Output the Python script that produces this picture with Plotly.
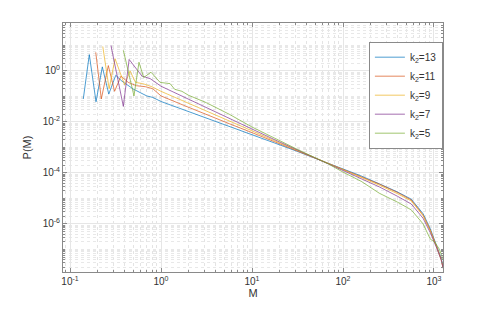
import numpy as np
import plotly.graph_objects as go

# log10 values
labels = ["k<sub>2</sub>=13", "k<sub>2</sub>=11", "k<sub>2</sub>=9", "k<sub>2</sub>=7", "k<sub>2</sub>=5"]
colors = ["#0072BD", "#D95319", "#EDB120", "#7E2F8E", "#77AC30"]

x_tick_exps = [-1, 0, 1, 2, 3]
y_tick_exps = [-6, -4, -2, 0]

logM_k13 = [-0.854, -0.788, -0.714, -0.645, -0.574, -0.497, -0.43, -0.30, -0.157, -0.09, 0.0, 0.25, 0.5, 0.75,
            1.0, 1.25, 1.5, 1.84, 2.0, 2.2, 2.4, 2.6, 2.75, 2.88, 2.96, 3.03, 3.08, 3.10]
logP_k13 = [-1.10, 0.64, -1.21, 0.16, -0.91, -0.17, -0.40, -0.72, -0.98, -1.04, -1.20, -1.52, -1.84, -2.16,
            -2.49, -2.83, -3.16, -3.62, -3.84, -4.12, -4.43, -4.75, -5.03, -5.60, -6.20, -6.85, -7.35, -7.70]

logM_k11 = [-0.717, -0.656, -0.579, -0.51, -0.44, -0.36, -0.27, -0.17, -0.09, 0.0, 0.25, 0.5, 0.75, 1.0,
            1.25, 1.5, 1.84, 2.0, 2.2, 2.4, 2.6, 2.75, 2.88, 2.96, 3.03, 3.08, 3.10]
logP_k11 = [0.73, -1.10, 0.21, -0.80, -0.20, -0.45, -0.58, -0.62, -0.70, -0.98, -1.35, -1.72, -2.07, -2.42,
            -2.78, -3.13, -3.62, -3.85, -4.13, -4.44, -4.77, -5.06, -5.65, -6.25, -6.90, -7.40, -7.72]

logM_k9 = [-0.64, -0.57, -0.505, -0.40, -0.34, -0.28, -0.20, -0.10, 0.0, 0.25, 0.5, 0.75, 1.0, 1.25,
           1.5, 1.84, 2.0, 2.2, 2.4, 2.6, 2.75, 2.88, 2.96, 3.03, 3.08, 3.10]
logP_k9 = [0.96, -0.70, 0.48, -0.55, 0.0, -0.45, -0.50, -0.62, -0.80, -1.18, -1.58, -1.97, -2.35, -2.74,
           -3.12, -3.63, -3.87, -4.16, -4.48, -4.82, -5.10, -5.68, -6.28, -6.92, -7.42, -7.74]

logM_k7 = [-0.55, -0.48, -0.414, -0.35, -0.29, -0.21, -0.12, -0.07, 0.0, 0.25, 0.5, 0.75, 1.0, 1.25,
           1.5, 1.84, 2.0, 2.2, 2.4, 2.6, 2.75, 2.88, 2.96, 3.03, 3.08, 3.10]
logP_k7 = [1.00, -0.25, -1.39, 0.45, 0.15, -0.20, -0.30, -0.42, -0.60, -1.02, -1.45, -1.87, -2.28, -2.70,
           -3.10, -3.64, -3.90, -4.22, -4.55, -4.92, -5.22, -5.78, -6.35, -6.95, -7.42, -7.74]

logM_k5 = [-0.414, -0.297, -0.242, -0.19, -0.11, -0.01, 0.10, 0.15, 0.23, 0.30, 0.5, 0.75, 1.0, 1.25,
           1.5, 1.84, 2.0, 2.2, 2.4, 2.6, 2.75, 2.88, 2.96, 3.01, 3.06, 3.10]
logP_k5 = [0.81, -0.98, 0.34, -0.26, -0.05, -0.45, -0.50, -0.72, -0.80, -0.95, -1.25, -1.70, -2.20, -2.65,
           -3.08, -3.65, -3.97, -4.33, -4.80, -5.15, -5.45, -6.00, -6.60, -6.72, -7.00, -7.40]

series_logM = [logM_k13, logM_k11, logM_k9, logM_k7, logM_k5]
series_logP = [logP_k13, logP_k11, logP_k9, logP_k7, logP_k5]

fig = go.Figure()
for lab, col, lm, lp in zip(labels, colors, series_logM, series_logP):
    fig.add_trace(go.Scatter(x=10 ** np.array(lm), y=10 ** np.array(lp), mode="lines", name=lab,
                             line=dict(color=col, width=0.7)))


def minor_vals(d0, d1, majors):
    vals = []
    for d in range(d0, d1 + 1):
        for k in range(1, 10):
            if k == 1 and d in majors:
                continue
            vals.append(k * 10.0 ** d)
    return vals


font = dict(family="Liberation Sans, Arial", size=10, color="#333333")
axis_common = dict(
    type="log", showline=True, linecolor="#8a8a8a", linewidth=1, mirror="ticks",
    ticks="inside", ticklen=4, tickcolor="#8a8a8a", showgrid=True, gridcolor="#e6e6e6", gridwidth=1,
    zeroline=False, tickfont=font, tickmode="array",
)

fig.update_xaxes(**axis_common, range=[-1.077, 3.099],
                 tickvals=[10.0 ** e for e in x_tick_exps],
                 ticktext=[f"10<sup>{e}</sup>" for e in x_tick_exps],
                 minor=dict(tickmode="array", tickvals=minor_vals(-2, 3, x_tick_exps), showgrid=True,
                            gridcolor="#e4e4e4", griddash="dot", ticks="inside", ticklen=2, tickcolor="#8a8a8a"),
                 title=dict(text="M", font=dict(family="Liberation Sans, Arial", size=11, color="#333333"),
                            standoff=2))
fig.update_yaxes(**axis_common, range=[-7.888, 1.88],
                 tickvals=[10.0 ** e for e in y_tick_exps],
                 ticktext=[f"10<sup>{e}</sup>" for e in y_tick_exps],
                 minor=dict(tickmode="array", tickvals=minor_vals(-8, 1, y_tick_exps), showgrid=True,
                            gridcolor="#e8e8e8", griddash="dot", ticks="inside", ticklen=2, tickcolor="#8a8a8a"),
                 title=dict(text="P(M)", font=dict(family="Liberation Sans, Arial", size=11, color="#333333"),
                            standoff=8))

fig.update_layout(
    width=491, height=309,
    margin=dict(l=63, r=48, t=23, b=34),
    paper_bgcolor="white", plot_bgcolor="white",
    legend=dict(x=0.805, y=0.925, xanchor="left", yanchor="top", bgcolor="white",
                bordercolor="#8a8a8a", borderwidth=1,
                font=dict(family="Liberation Sans, Arial", size=10, color="#333333"),
                itemwidth=30, tracegroupgap=0),
    showlegend=True,
)

fig.write_html("out.html", config={"displayModeBar": False},
               post_script="document.body.style.margin='0';document.body.style.overflow='hidden';")
